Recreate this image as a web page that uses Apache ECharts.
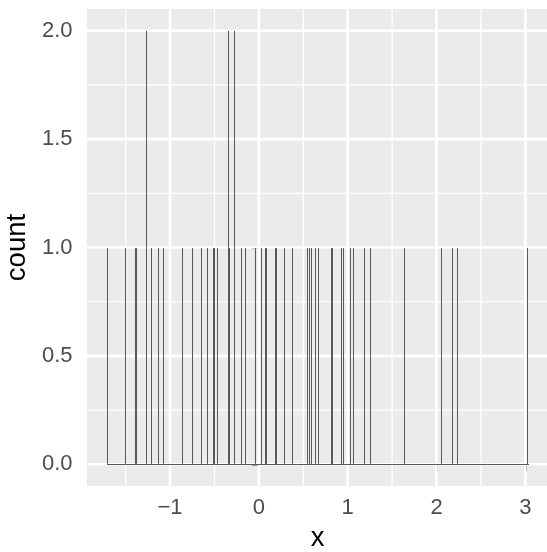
<!DOCTYPE html>
<html>
<head>
<meta charset="utf-8">
<script src="https://cdn.jsdelivr.net/npm/echarts@6/dist/echarts.min.js"></script>
<style>html,body{margin:0;padding:0;background:#fff}#c{width:547px;height:552px}</style>
</head>
<body>
<div id="c"></div>
<script>
// Bin centres (x) and counts
const binCenters = [-1.699,-1.497,-1.386,-1.375,-1.260,-1.204,-1.125,-1.069,-0.855,-0.742,
  -0.641,-0.584,-0.507,-0.495,-0.461,-0.337,-0.326,-0.269,-0.190,-0.145,
  -0.033,0.024,0.069,0.091,0.190,0.201,0.294,0.384,0.553,0.575,
  0.598,0.643,0.666,0.819,0.830,0.929,0.958,1.030,1.060,1.184,
  1.262,1.634,2.051,2.175,2.231,3.019];
const binCounts = [1,1,1,1,2,1,1,1,1,1,
  1,1,1,1,1,2,1,2,1,1,
  1,1,1,1,1,1,1,1,1,1,
  1,1,1,1,1,1,1,1,1,1,
  1,1,1,1,1,1];
const binWidth = 0.0113;
const xTicks = [-1,0,1,2,3];
const xMinor = [-1.5,-0.5,0.5,1.5,2.5];
const yTicks = [0,0.5,1,1.5,2];
const yMinor = [0.25,0.75,1.25,1.75];
const xRange = [-1.935, 3.255];
const yRange = [-0.1, 2.1];

const chart = echarts.init(document.getElementById('c'), null, {renderer:'canvas'});
const FONT = '"Liberation Sans", Arial, Helvetica, sans-serif';

const gridLines = [];
xMinor.forEach(v => gridLines.push({dir:'v', v, w:1.3}));
yMinor.forEach(v => gridLines.push({dir:'h', v, w:1.3}));
xTicks.forEach(v => gridLines.push({dir:'v', v, w:2.6}));
yTicks.forEach(v => gridLines.push({dir:'h', v, w:2.6}));

const option = {
  animation:false,
  backgroundColor:'#ffffff',
  grid:{left:87, top:9, width:461, height:477, show:true, backgroundColor:'#EBEBEB', borderWidth:0,
    containLabel:false, outerBoundsMode:'none'},
  xAxis:{type:'value', min:xRange[0], max:xRange[1],
    name:'x', nameLocation:'middle', nameGap:38.5,
    nameTextStyle:{color:'#000', fontSize:27.5, fontFamily:FONT},
    axisLine:{show:false},
    axisTick:{show:true, customValues:xTicks, length:7, lineStyle:{color:'#333333', width:2}},
    axisLabel:{show:true, customValues:xTicks, margin:11, color:'#4D4D4D', fontSize:22, fontFamily:FONT,
      formatter:v => (v<0 ? '\u2212'+Math.abs(v) : String(v))},
    splitLine:{show:false}, minorSplitLine:{show:false}},
  yAxis:{type:'value', min:yRange[0], max:yRange[1],
    name:'count', nameLocation:'middle', nameGap:53, nameRotate:90,
    nameTextStyle:{color:'#000', fontSize:27.5, fontFamily:FONT},
    axisLine:{show:false},
    axisTick:{show:true, customValues:yTicks, length:7, lineStyle:{color:'#333333', width:2}},
    axisLabel:{show:true, customValues:yTicks, margin:14.5, color:'#4D4D4D', fontSize:22, fontFamily:FONT,
      formatter:v => v.toFixed(1)},
    splitLine:{show:false}, minorSplitLine:{show:false}},
  series:[
    {type:'custom', silent:true, z:1,
      data: gridLines.map((g,i)=>[i]),
      renderItem:(params, api)=>{
        const g = gridLines[api.value(0)];
        if (g.dir==='v'){
          const p = api.coord([g.v, yRange[0]]), q = api.coord([g.v, yRange[1]]);
          return {type:'line', shape:{x1:p[0],y1:p[1],x2:q[0],y2:q[1]}, style:{stroke:'#ffffff', lineWidth:g.w}};
        } else {
          const p = api.coord([xRange[0], g.v]), q = api.coord([xRange[1], g.v]);
          return {type:'line', shape:{x1:p[0],y1:p[1],x2:q[0],y2:q[1]}, style:{stroke:'#ffffff', lineWidth:g.w}};
        }
      }},
    {type:'custom', silent:true, z:3,
      data:[[Math.min(...binCenters)-binWidth/2, Math.max(...binCenters)+binWidth/2]],
      renderItem:(params, api)=>{
        const p = api.coord([api.value(0), 0]), q = api.coord([api.value(1), 0]);
        const y = Math.round(p[1]) + 0.5;
        return {type:'line', shape:{x1:Math.round(p[0]),y1:y,x2:Math.round(q[0])+1,y2:y}, style:{stroke:'#595959', lineWidth:1}};
      }},
    {type:'custom', silent:true, z:4,
      data: binCenters.map((x,i)=>[x, binCounts[i]]),
      renderItem:(params, api)=>{
        const x = api.value(0), c = api.value(1);
        const p0 = api.coord([x - binWidth/2, 0]);
        const p1 = api.coord([x + binWidth/2, c]);
        const left = Math.round(p0[0]);
        const w = Math.max(1, Math.round(p1[0]-p0[0]));
        const top = Math.round(p1[1]);
        const bottom = Math.round(p0[1]);
        return {type:'rect', shape:{x:left, y:top, width:w, height:bottom-top}, style:{fill:'#595959'}};
      }}
  ]
};
chart.setOption(option);
</script>
</body>
</html>
